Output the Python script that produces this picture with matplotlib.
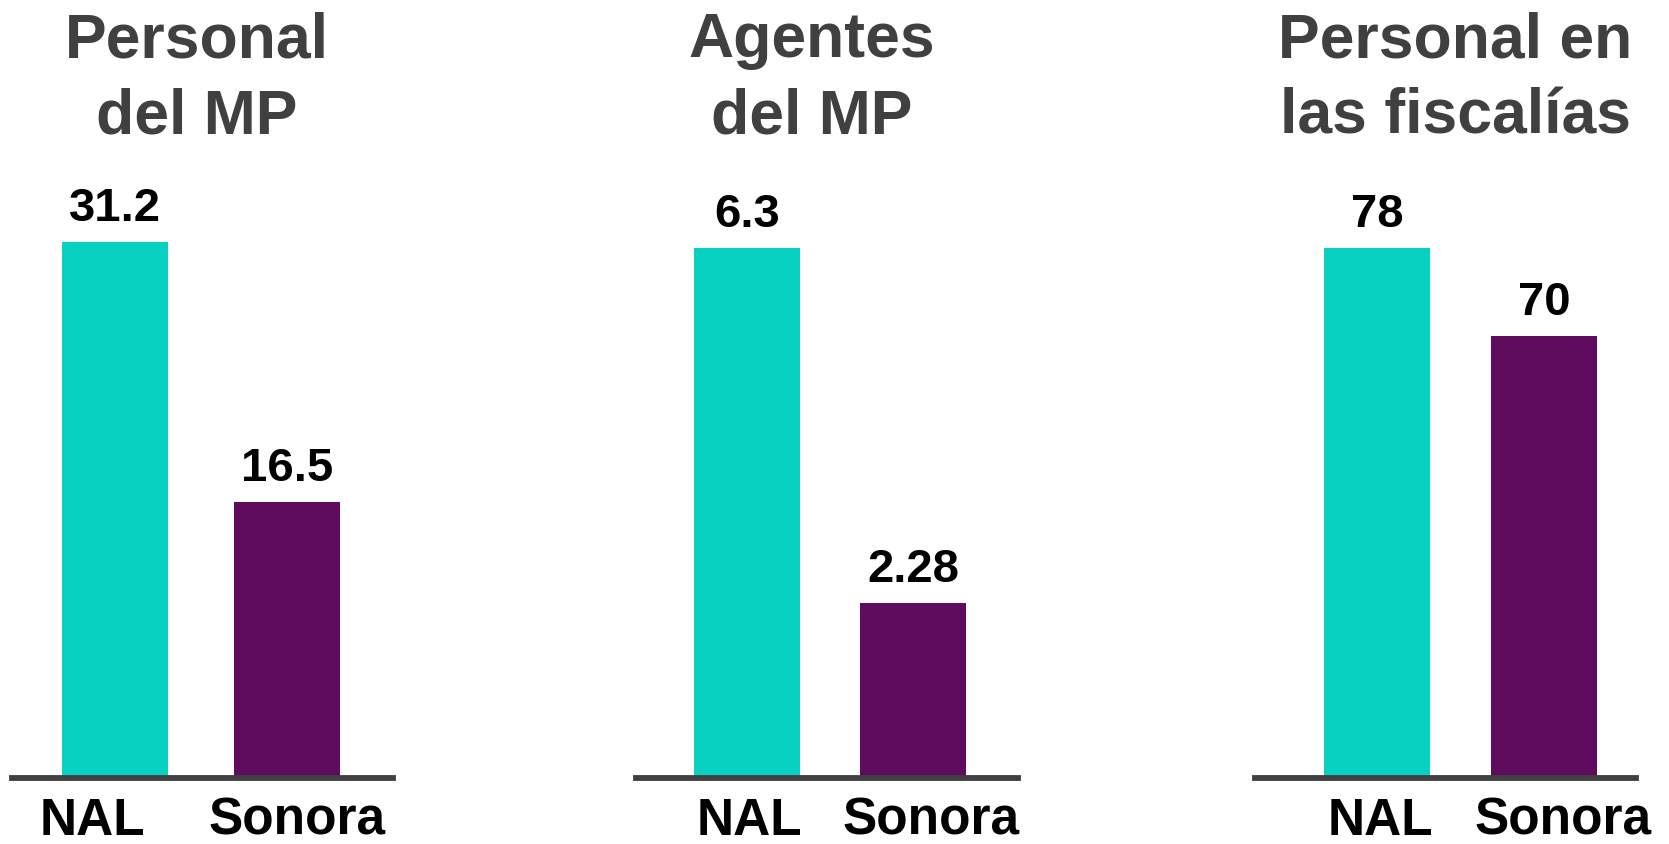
"""
Personal del MP / Agentes del MP / Personal en las fiscalías: NAL vs Sonora
"""

import matplotlib
matplotlib.use("Agg")
import matplotlib.pyplot as plt
from matplotlib import font_manager
import matplotlib.transforms as mtransforms

# data
titles = [["Personal", "del MP"], ["Agentes", "del MP"], ["Personal en", "las fiscalías"]]
categories = ["NAL", "Sonora"]
nal_values = [31.2, 6.3, 78]
sonora_values = [16.5, 2.28, 70]
value_labels = [["31.2", "16.5"], ["6.3", "2.28"], ["78", "70"]]

# y range of each panel (the bars do not start from zero in the original)
ylims = [(0.9, 36.46), (0.3, 7.42), (29.8, 87.0)]

clr_nal = "#08D1C1"
clr_son = "#600C5E"
clr_dark = "#404040"

W, H = 1669, 845
# pixel layout: axis line left/right, bar centres, label shifts
line_px = [(12, 393), (636, 1018), (1255, 1636)]
bar_px = [(115, 287), (747, 913), (1377, 1544)]
lab_shift_px = [(-23, 10), (2, 18), (3, 19)]
title_cx = [197, 812, 1455]
bar_w_px = 106
base_px = 779
top_px = 150

names = {f.name for f in font_manager.fontManager.ttflist}
if "Liberation Sans Narrow" in names:
    narrow, num_size = "Liberation Sans Narrow", 38
else:
    narrow, num_size = "Liberation Sans", 34

fig = plt.figure(figsize=(W / 100, H / 100), dpi=100)

for i in range(3):
    l, r = line_px[i]
    c0, c1 = bar_px[i]
    sp = c1 - c0
    ax = fig.add_axes([l / W, (H - base_px) / H, (r - l) / W, (base_px - top_px) / H])
    vals = [nal_values[i], sonora_values[i]]
    ax.bar([0, 1], vals, width=bar_w_px / sp, color=[clr_nal, clr_son], zorder=1)
    ax.set_xlim(-(c0 - l) / sp, 1 + (r - c1) / sp)
    ax.set_ylim(*ylims[i])

    for s in ["top", "left", "right"]:
        ax.spines[s].set_visible(False)
    ax.spines["bottom"].set_color(clr_dark)
    ax.spines["bottom"].set_linewidth(4.2)
    ax.spines["bottom"].set_zorder(3)
    ax.set_xticks([])
    ax.set_yticks([])

    for j, v in enumerate(vals):
        ax.annotate(value_labels[i][j], (j, v), xytext=(0, 16), textcoords="offset points",
                    ha="center", va="baseline", fontsize=num_size, fontweight="bold",
                    family=narrow, color="black")

    trans = mtransforms.blended_transform_factory(ax.transData, ax.transAxes)
    for j, cat in enumerate(categories):
        ax.text(j + lab_shift_px[i][j] / sp, -56 / (base_px - top_px), cat, transform=trans,
                ha="center", va="baseline", fontsize=37, fontweight="bold",
                family="Liberation Sans", color="black")

    for k, line in enumerate(titles[i]):
        fig.text(title_cx[i] / W, 1 - [57, 134][k] / H, line, ha="center", va="baseline",
                 fontsize=45, fontweight="bold", family="Liberation Sans", color=clr_dark)

fig.savefig("out.png", dpi=100)
